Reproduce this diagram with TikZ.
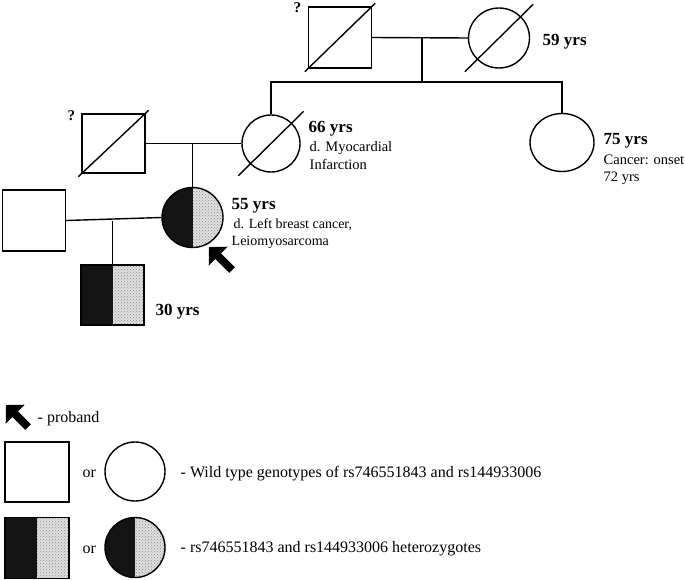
\documentclass[tikz,border=0pt]{standalone}
\usepackage{fontspec}
\setmainfont{Liberation Serif}
\usetikzlibrary{arrows.meta,calc,patterns,shapes.geometric}

\begin{document}
\begin{tikzpicture}[x=1pt,y=-1pt,line width=1.4pt,
  male/.style={draw,rectangle,minimum width=63,minimum height=61,inner sep=0},
  female/.style={draw,ellipse,minimum width=61,minimum height=60,inner sep=0},
  het/.style={fill=gray!25,path picture={
      \fill[pattern=crosshatch dots,pattern color=gray!90] (path picture bounding box.south west) rectangle (path picture bounding box.north east);
      \fill[black!92] (path picture bounding box.south west) rectangle (path picture bounding box.north);}},
  age/.style={anchor=base west,inner sep=0,font=\fontsize{17}{19}\selectfont\bfseries},
  note/.style={anchor=base west,inner sep=0,font=\fontsize{14.5}{16}\selectfont},
  key/.style={anchor=base west,inner sep=0,font=\fontsize{16}{18}\selectfont},
  pb/.style={line width=8pt,-{Triangle[length=13pt,width=26pt]}}]
  \useasboundingbox (0,0) rectangle (685,580);

  \node[male] (gf) at (340,37.5) {};
  \node[female] (gm) at (499,38) {};
  \node[male,minimum height=59] (fa) at (113.5,143.5) {};
  \node[female,minimum width=58,minimum height=57] (mo) at (271,143.5) {};
  \node[female,minimum width=64,minimum height=58] (au) at (562,142.5) {};
  \node[male] (hu) at (34,220.5) {};
  \node[female,het] (pro) at (192.5,217.5) {};
  \node[male,het,minimum height=60] (son) at (112.5,295) {};

  \coordinate (gsib) at (422,82);
  \draw (gf.east) -- (gm.west);
  \draw (gsib |- gf.east) -- (gsib);
  \draw (mo.north) -- (mo.north |- gsib) -- (au.north |- gsib) -- (au.north);
  \draw (fa.east) -- (mo.west);
  \draw (pro.north |- fa.east) -- (pro.north);
  \draw (hu.east) -- (pro.west);
  \draw (son.north |- hu.east) -- (son.north);

  \foreach \n in {gf,gm,fa,mo}
    \draw ($(\n.south -| \n.west)+(-3,3)$) -- ($(\n.north -| \n.east)+(3,-3)$);

  \node[age,font=\fontsize{15}{17}\selectfont\bfseries] (qgf) at (293,13) {?};
  \node[age,font=\fontsize{15}{17}\selectfont\bfseries] (qfa) at (67,121) {?};
  \node[age] (agm) at (542,46) {59 yrs};
  \node[age] (amo) at (308,133) {66 yrs};
  \node[note] (nmo1) at (309,152) {d. Myocardial};
  \node[note] (nmo2) at (309,170) {Infarction};
  \node[age] (aau) at (603,145) {75 yrs};
  \node[note] (nau1) at (603,165) {Cancer: onset};
  \node[note] (nau2) at (603,182) {72 yrs};
  \node[age] (apro) at (231,210) {55 yrs};
  \node[note,font=\fontsize{14}{16}\selectfont] (npro1) at (233,228) {d. Left breast cancer,};
  \node[note,font=\fontsize{14}{16}\selectfont] (npro2) at (231,245) {Leiomyosarcoma};
  \node[age] (ason) at (155,315) {30 yrs};

  \coordinate (pbtip) at (209,247);
  \coordinate (pbtail) at (232,270);
  \draw[pb] (pbtail) -- (pbtip);

  \coordinate (ktip) at (6,405);
  \coordinate (ktail) at (28,427);
  \draw[pb] (ktail) -- (ktip);
  \node[key] (kpb) at (37,422) {- proband};

  \node[male,minimum width=64,minimum height=60] (kwm) at (37,472) {};
  \node[key] (kor1) at (82,477) {or};
  \node[female,minimum width=60,minimum height=59] (kwf) at (135,471.5) {};
  \node[key] (kwt) at (180,477) {- Wild type genotypes of rs746551843 and rs144933006};
  \node[male,het,minimum width=64,minimum height=61] (khm) at (37,548) {};
  \node[key] (kor2) at (82,553) {or};
  \node[female,het,minimum width=60,minimum height=60] (khf) at (135,547.5) {};
  \node[key] (kht) at (180,552) {- rs746551843 and rs144933006 heterozygotes};
\end{tikzpicture}
\end{document}
